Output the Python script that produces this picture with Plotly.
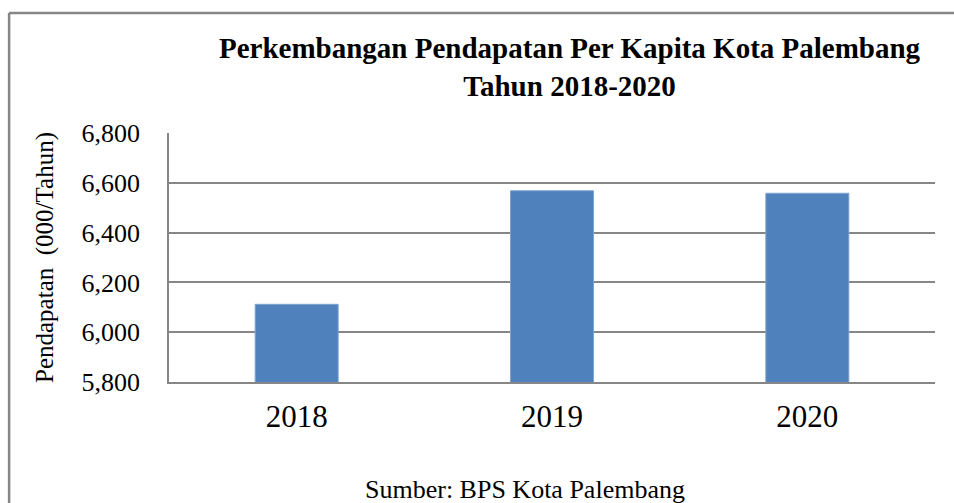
import plotly.graph_objects as go

years = ["2018", "2019", "2020"]
pendapatan = [6112, 6568, 6558]
y_ticks = [5800, 6000, 6200, 6400, 6600, 6800]
y_tick_labels = ["5,800", "6,000", "6,200", "6,400", "6,600", "6,800"]

W, H = 954, 503
L, R, T, B = 169, 18.5, 133, 121
pw, ph = W - L - R, H - T - B

def px(x):
    return (x - L) / pw

def py(y):
    return (H - B - y) / ph

font = "Liberation Serif"

fig = go.Figure(go.Bar(
    x=years, y=pendapatan,
    marker=dict(color="#4F81BD", line=dict(color="#7EA3D0", width=1)),
    width=0.325,
))

fig.update_layout(
    width=W, height=H,
    margin=dict(l=L, r=R, t=T, b=B, pad=0),
    paper_bgcolor="white", plot_bgcolor="white",
    showlegend=False,
    font=dict(family=font, color="black"),
    xaxis=dict(
        showgrid=False, showline=True, linecolor="#868686", linewidth=1.5,
        tickfont=dict(size=31, family=font), ticks="", ticklabelstandoff=6,
    ),
    yaxis=dict(
        range=[5800, 6800], tickvals=y_ticks, ticktext=y_tick_labels,
        showgrid=True, gridcolor="#868686", gridwidth=1.5,
        showline=True, linecolor="#868686", linewidth=1.5,
        tickfont=dict(size=26, family=font), ticks="", ticklabelstandoff=22,
        zeroline=False,
        title=dict(text="Pendapatan  (000/Tahun)", font=dict(size=25, family=font), standoff=21),
    ),
    annotations=[
        dict(text="<b>Perkembangan Pendapatan Per Kapita Kota Palembang<br>Tahun 2018-2020</b>",
             x=px(570), y=py(67), xref="paper", yref="paper", showarrow=False,
             font=dict(size=29, family=font), xanchor="center", yanchor="middle", align="center"),
        dict(text="Sumber: BPS Kota Palembang",
             x=px(525), y=py(489), xref="paper", yref="paper", showarrow=False,
             font=dict(size=26, family=font), xanchor="center", yanchor="middle"),
    ],
    shapes=[
        dict(type="line", xref="paper", yref="paper", x0=px(9), x1=px(960), y0=py(13), y1=py(13),
             line=dict(color="#868686", width=2.5)),
        dict(type="line", xref="paper", yref="paper", x0=px(9), x1=px(9), y0=py(13), y1=py(510),
             line=dict(color="#868686", width=2.5)),
    ],
)

fig.write_html("out.html", config={"displayModeBar": False},
               post_script="document.body.style.margin='0';document.body.style.padding='0';")
